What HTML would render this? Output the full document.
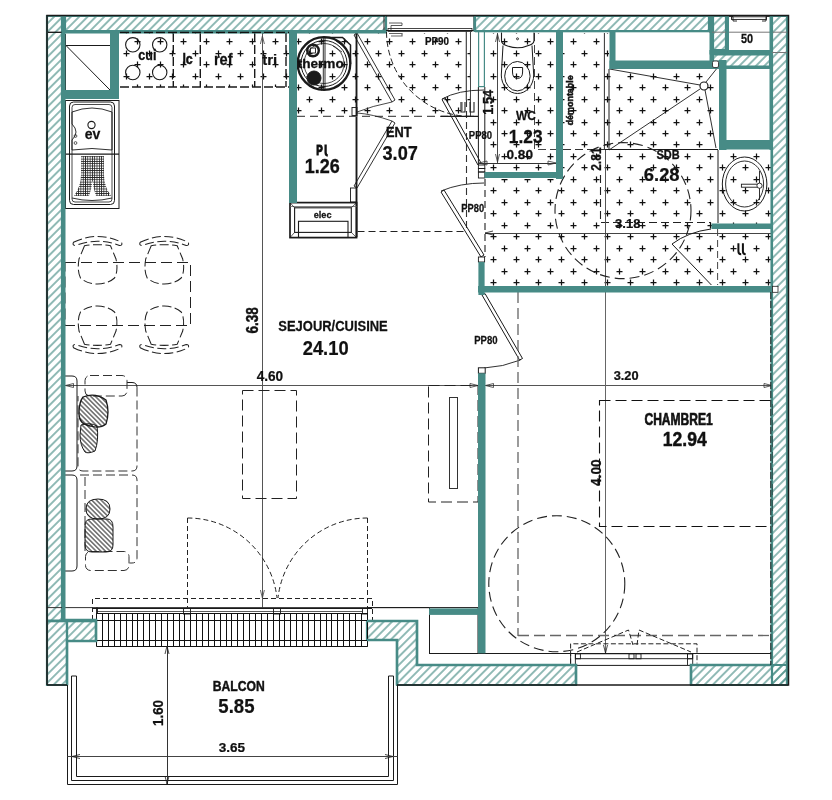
<!DOCTYPE html>
<html><head><meta charset="utf-8"><style>html,body{margin:0;padding:0;background:#fff;}svg{display:block;will-change:transform;}</style></head>
<body><svg width="832" height="800" viewBox="0 0 832 800" font-family="'Liberation Sans', sans-serif">
<rect width="832" height="800" fill="#fff"/>

<defs>
 <pattern id="hatch" patternUnits="userSpaceOnUse" width="5.9" height="5.9" patternTransform="rotate(45)">
   <line x1="2.95" y1="-1" x2="2.95" y2="7" stroke="#3f8780" stroke-width="1.15"/>
 </pattern>
 <pattern id="hatchk" patternUnits="userSpaceOnUse" width="3.3" height="3.3" patternTransform="rotate(-45)">
   <line x1="1.65" y1="-1" x2="1.65" y2="5" stroke="#111" stroke-width="0.95"/>
 </pattern>
 <pattern id="grid" patternUnits="userSpaceOnUse" width="2.3" height="2.3">
   <path d="M0 0.4H2.3M0.4 0V2.3" stroke="#222" stroke-width="0.8"/>
 </pattern>
</defs><clipPath id="tclip"><rect x="120" y="33" width="169" height="54"/><rect x="297" y="33" width="174" height="83"/><rect x="485" y="33" width="71" height="139"/><rect x="563" y="33" width="46" height="254"/><rect x="609" y="69" width="109" height="81"/><rect x="485" y="179" width="287" height="108"/><rect x="563" y="150" width="209" height="40"/><rect x="718" y="150" width="54" height="130"/></clipPath><path clip-path="url(#tclip)" d="M111.5 41.5h6M114.5 38.5v6M111.5 64.5h6M114.5 61.5v6M111.5 87.5h6M114.5 84.5v6M111.5 110.5h6M114.5 107.5v6M111.5 133.5h6M114.5 130.5v6M111.5 156.5h6M114.5 153.5v6M111.5 179.5h6M114.5 176.5v6M111.5 202.5h6M114.5 199.5v6M111.5 225.5h6M114.5 222.5v6M111.5 248.5h6M114.5 245.5v6M111.5 271.5h6M114.5 268.5v6M111.5 293.5h6M114.5 290.5v6M134.5 41.5h6M137.5 38.5v6M134.5 64.5h6M137.5 61.5v6M134.5 87.5h6M137.5 84.5v6M134.5 110.5h6M137.5 107.5v6M134.5 133.5h6M137.5 130.5v6M134.5 156.5h6M137.5 153.5v6M134.5 179.5h6M137.5 176.5v6M134.5 202.5h6M137.5 199.5v6M134.5 225.5h6M137.5 222.5v6M134.5 248.5h6M137.5 245.5v6M134.5 271.5h6M137.5 268.5v6M134.5 293.5h6M137.5 290.5v6M157.5 41.5h6M160.5 38.5v6M157.5 64.5h6M160.5 61.5v6M157.5 87.5h6M160.5 84.5v6M157.5 110.5h6M160.5 107.5v6M157.5 133.5h6M160.5 130.5v6M157.5 156.5h6M160.5 153.5v6M157.5 179.5h6M160.5 176.5v6M157.5 202.5h6M160.5 199.5v6M157.5 225.5h6M160.5 222.5v6M157.5 248.5h6M160.5 245.5v6M157.5 271.5h6M160.5 268.5v6M157.5 293.5h6M160.5 290.5v6M180.5 41.5h6M183.5 38.5v6M180.5 64.5h6M183.5 61.5v6M180.5 87.5h6M183.5 84.5v6M180.5 110.5h6M183.5 107.5v6M180.5 133.5h6M183.5 130.5v6M180.5 156.5h6M183.5 153.5v6M180.5 179.5h6M183.5 176.5v6M180.5 202.5h6M183.5 199.5v6M180.5 225.5h6M183.5 222.5v6M180.5 248.5h6M183.5 245.5v6M180.5 271.5h6M183.5 268.5v6M180.5 293.5h6M183.5 290.5v6M203.5 41.5h6M206.5 38.5v6M203.5 64.5h6M206.5 61.5v6M203.5 87.5h6M206.5 84.5v6M203.5 110.5h6M206.5 107.5v6M203.5 133.5h6M206.5 130.5v6M203.5 156.5h6M206.5 153.5v6M203.5 179.5h6M206.5 176.5v6M203.5 202.5h6M206.5 199.5v6M203.5 225.5h6M206.5 222.5v6M203.5 248.5h6M206.5 245.5v6M203.5 271.5h6M206.5 268.5v6M203.5 293.5h6M206.5 290.5v6M226.5 41.5h6M229.5 38.5v6M226.5 64.5h6M229.5 61.5v6M226.5 87.5h6M229.5 84.5v6M226.5 110.5h6M229.5 107.5v6M226.5 133.5h6M229.5 130.5v6M226.5 156.5h6M229.5 153.5v6M226.5 179.5h6M229.5 176.5v6M226.5 202.5h6M229.5 199.5v6M226.5 225.5h6M229.5 222.5v6M226.5 248.5h6M229.5 245.5v6M226.5 271.5h6M229.5 268.5v6M226.5 293.5h6M229.5 290.5v6M249.5 41.5h6M252.5 38.5v6M249.5 64.5h6M252.5 61.5v6M249.5 87.5h6M252.5 84.5v6M249.5 110.5h6M252.5 107.5v6M249.5 133.5h6M252.5 130.5v6M249.5 156.5h6M252.5 153.5v6M249.5 179.5h6M252.5 176.5v6M249.5 202.5h6M252.5 199.5v6M249.5 225.5h6M252.5 222.5v6M249.5 248.5h6M252.5 245.5v6M249.5 271.5h6M252.5 268.5v6M249.5 293.5h6M252.5 290.5v6M272.5 41.5h6M275.5 38.5v6M272.5 64.5h6M275.5 61.5v6M272.5 87.5h6M275.5 84.5v6M272.5 110.5h6M275.5 107.5v6M272.5 133.5h6M275.5 130.5v6M272.5 156.5h6M275.5 153.5v6M272.5 179.5h6M275.5 176.5v6M272.5 202.5h6M275.5 199.5v6M272.5 225.5h6M275.5 222.5v6M272.5 248.5h6M275.5 245.5v6M272.5 271.5h6M275.5 268.5v6M272.5 293.5h6M275.5 290.5v6M295.5 41.5h6M298.5 38.5v6M295.5 64.5h6M298.5 61.5v6M295.5 87.5h6M298.5 84.5v6M295.5 110.5h6M298.5 107.5v6M295.5 133.5h6M298.5 130.5v6M295.5 156.5h6M298.5 153.5v6M295.5 179.5h6M298.5 176.5v6M295.5 202.5h6M298.5 199.5v6M295.5 225.5h6M298.5 222.5v6M295.5 248.5h6M298.5 245.5v6M295.5 271.5h6M298.5 268.5v6M295.5 293.5h6M298.5 290.5v6M318.5 41.5h6M321.5 38.5v6M318.5 64.5h6M321.5 61.5v6M318.5 87.5h6M321.5 84.5v6M318.5 110.5h6M321.5 107.5v6M318.5 133.5h6M321.5 130.5v6M318.5 156.5h6M321.5 153.5v6M318.5 179.5h6M321.5 176.5v6M318.5 202.5h6M321.5 199.5v6M318.5 225.5h6M321.5 222.5v6M318.5 248.5h6M321.5 245.5v6M318.5 271.5h6M321.5 268.5v6M318.5 293.5h6M321.5 290.5v6M341.5 41.5h6M344.5 38.5v6M341.5 64.5h6M344.5 61.5v6M341.5 87.5h6M344.5 84.5v6M341.5 110.5h6M344.5 107.5v6M341.5 133.5h6M344.5 130.5v6M341.5 156.5h6M344.5 153.5v6M341.5 179.5h6M344.5 176.5v6M341.5 202.5h6M344.5 199.5v6M341.5 225.5h6M344.5 222.5v6M341.5 248.5h6M344.5 245.5v6M341.5 271.5h6M344.5 268.5v6M341.5 293.5h6M344.5 290.5v6M364.5 41.5h6M367.5 38.5v6M364.5 64.5h6M367.5 61.5v6M364.5 87.5h6M367.5 84.5v6M364.5 110.5h6M367.5 107.5v6M364.5 133.5h6M367.5 130.5v6M364.5 156.5h6M367.5 153.5v6M364.5 179.5h6M367.5 176.5v6M364.5 202.5h6M367.5 199.5v6M364.5 225.5h6M367.5 222.5v6M364.5 248.5h6M367.5 245.5v6M364.5 271.5h6M367.5 268.5v6M364.5 293.5h6M367.5 290.5v6M386.5 41.5h6M389.5 38.5v6M386.5 64.5h6M389.5 61.5v6M386.5 87.5h6M389.5 84.5v6M386.5 110.5h6M389.5 107.5v6M386.5 133.5h6M389.5 130.5v6M386.5 156.5h6M389.5 153.5v6M386.5 179.5h6M389.5 176.5v6M386.5 202.5h6M389.5 199.5v6M386.5 225.5h6M389.5 222.5v6M386.5 248.5h6M389.5 245.5v6M386.5 271.5h6M389.5 268.5v6M386.5 293.5h6M389.5 290.5v6M409.5 41.5h6M412.5 38.5v6M409.5 64.5h6M412.5 61.5v6M409.5 87.5h6M412.5 84.5v6M409.5 110.5h6M412.5 107.5v6M409.5 133.5h6M412.5 130.5v6M409.5 156.5h6M412.5 153.5v6M409.5 179.5h6M412.5 176.5v6M409.5 202.5h6M412.5 199.5v6M409.5 225.5h6M412.5 222.5v6M409.5 248.5h6M412.5 245.5v6M409.5 271.5h6M412.5 268.5v6M409.5 293.5h6M412.5 290.5v6M432.5 41.5h6M435.5 38.5v6M432.5 64.5h6M435.5 61.5v6M432.5 87.5h6M435.5 84.5v6M432.5 110.5h6M435.5 107.5v6M432.5 133.5h6M435.5 130.5v6M432.5 156.5h6M435.5 153.5v6M432.5 179.5h6M435.5 176.5v6M432.5 202.5h6M435.5 199.5v6M432.5 225.5h6M435.5 222.5v6M432.5 248.5h6M435.5 245.5v6M432.5 271.5h6M435.5 268.5v6M432.5 293.5h6M435.5 290.5v6M455.5 41.5h6M458.5 38.5v6M455.5 64.5h6M458.5 61.5v6M455.5 87.5h6M458.5 84.5v6M455.5 110.5h6M458.5 107.5v6M455.5 133.5h6M458.5 130.5v6M455.5 156.5h6M458.5 153.5v6M455.5 179.5h6M458.5 176.5v6M455.5 202.5h6M458.5 199.5v6M455.5 225.5h6M458.5 222.5v6M455.5 248.5h6M458.5 245.5v6M455.5 271.5h6M458.5 268.5v6M455.5 293.5h6M458.5 290.5v6M478.5 41.5h6M481.5 38.5v6M478.5 64.5h6M481.5 61.5v6M478.5 87.5h6M481.5 84.5v6M478.5 110.5h6M481.5 107.5v6M478.5 133.5h6M481.5 130.5v6M478.5 156.5h6M481.5 153.5v6M478.5 179.5h6M481.5 176.5v6M478.5 202.5h6M481.5 199.5v6M478.5 225.5h6M481.5 222.5v6M478.5 248.5h6M481.5 245.5v6M478.5 271.5h6M481.5 268.5v6M478.5 293.5h6M481.5 290.5v6M501.5 41.5h6M504.5 38.5v6M501.5 64.5h6M504.5 61.5v6M501.5 87.5h6M504.5 84.5v6M501.5 110.5h6M504.5 107.5v6M501.5 133.5h6M504.5 130.5v6M501.5 156.5h6M504.5 153.5v6M501.5 179.5h6M504.5 176.5v6M501.5 202.5h6M504.5 199.5v6M501.5 225.5h6M504.5 222.5v6M501.5 248.5h6M504.5 245.5v6M501.5 271.5h6M504.5 268.5v6M501.5 293.5h6M504.5 290.5v6M524.5 41.5h6M527.5 38.5v6M524.5 64.5h6M527.5 61.5v6M524.5 87.5h6M527.5 84.5v6M524.5 110.5h6M527.5 107.5v6M524.5 133.5h6M527.5 130.5v6M524.5 156.5h6M527.5 153.5v6M524.5 179.5h6M527.5 176.5v6M524.5 202.5h6M527.5 199.5v6M524.5 225.5h6M527.5 222.5v6M524.5 248.5h6M527.5 245.5v6M524.5 271.5h6M527.5 268.5v6M524.5 293.5h6M527.5 290.5v6M547.5 41.5h6M550.5 38.5v6M547.5 64.5h6M550.5 61.5v6M547.5 87.5h6M550.5 84.5v6M547.5 110.5h6M550.5 107.5v6M547.5 133.5h6M550.5 130.5v6M547.5 156.5h6M550.5 153.5v6M547.5 179.5h6M550.5 176.5v6M547.5 202.5h6M550.5 199.5v6M547.5 225.5h6M550.5 222.5v6M547.5 248.5h6M550.5 245.5v6M547.5 271.5h6M550.5 268.5v6M547.5 293.5h6M550.5 290.5v6M570.5 41.5h6M573.5 38.5v6M570.5 64.5h6M573.5 61.5v6M570.5 87.5h6M573.5 84.5v6M570.5 110.5h6M573.5 107.5v6M570.5 133.5h6M573.5 130.5v6M570.5 156.5h6M573.5 153.5v6M570.5 179.5h6M573.5 176.5v6M570.5 202.5h6M573.5 199.5v6M570.5 225.5h6M573.5 222.5v6M570.5 248.5h6M573.5 245.5v6M570.5 271.5h6M573.5 268.5v6M570.5 293.5h6M573.5 290.5v6M593.5 41.5h6M596.5 38.5v6M593.5 64.5h6M596.5 61.5v6M593.5 87.5h6M596.5 84.5v6M593.5 110.5h6M596.5 107.5v6M593.5 133.5h6M596.5 130.5v6M593.5 156.5h6M596.5 153.5v6M593.5 179.5h6M596.5 176.5v6M593.5 202.5h6M596.5 199.5v6M593.5 225.5h6M596.5 222.5v6M593.5 248.5h6M596.5 245.5v6M593.5 271.5h6M596.5 268.5v6M593.5 293.5h6M596.5 290.5v6M616.5 41.5h6M619.5 38.5v6M616.5 64.5h6M619.5 61.5v6M616.5 87.5h6M619.5 84.5v6M616.5 110.5h6M619.5 107.5v6M616.5 133.5h6M619.5 130.5v6M616.5 156.5h6M619.5 153.5v6M616.5 179.5h6M619.5 176.5v6M616.5 202.5h6M619.5 199.5v6M616.5 225.5h6M619.5 222.5v6M616.5 248.5h6M619.5 245.5v6M616.5 271.5h6M619.5 268.5v6M616.5 293.5h6M619.5 290.5v6M639.5 41.5h6M642.5 38.5v6M639.5 64.5h6M642.5 61.5v6M639.5 87.5h6M642.5 84.5v6M639.5 110.5h6M642.5 107.5v6M639.5 133.5h6M642.5 130.5v6M639.5 156.5h6M642.5 153.5v6M639.5 179.5h6M642.5 176.5v6M639.5 202.5h6M642.5 199.5v6M639.5 225.5h6M642.5 222.5v6M639.5 248.5h6M642.5 245.5v6M639.5 271.5h6M642.5 268.5v6M639.5 293.5h6M642.5 290.5v6M662.5 41.5h6M665.5 38.5v6M662.5 64.5h6M665.5 61.5v6M662.5 87.5h6M665.5 84.5v6M662.5 110.5h6M665.5 107.5v6M662.5 133.5h6M665.5 130.5v6M662.5 156.5h6M665.5 153.5v6M662.5 179.5h6M665.5 176.5v6M662.5 202.5h6M665.5 199.5v6M662.5 225.5h6M665.5 222.5v6M662.5 248.5h6M665.5 245.5v6M662.5 271.5h6M665.5 268.5v6M662.5 293.5h6M665.5 290.5v6M684.5 41.5h6M687.5 38.5v6M684.5 64.5h6M687.5 61.5v6M684.5 87.5h6M687.5 84.5v6M684.5 110.5h6M687.5 107.5v6M684.5 133.5h6M687.5 130.5v6M684.5 156.5h6M687.5 153.5v6M684.5 179.5h6M687.5 176.5v6M684.5 202.5h6M687.5 199.5v6M684.5 225.5h6M687.5 222.5v6M684.5 248.5h6M687.5 245.5v6M684.5 271.5h6M687.5 268.5v6M684.5 293.5h6M687.5 290.5v6M707.5 41.5h6M710.5 38.5v6M707.5 64.5h6M710.5 61.5v6M707.5 87.5h6M710.5 84.5v6M707.5 110.5h6M710.5 107.5v6M707.5 133.5h6M710.5 130.5v6M707.5 156.5h6M710.5 153.5v6M707.5 179.5h6M710.5 176.5v6M707.5 202.5h6M710.5 199.5v6M707.5 225.5h6M710.5 222.5v6M707.5 248.5h6M710.5 245.5v6M707.5 271.5h6M710.5 268.5v6M707.5 293.5h6M710.5 290.5v6M730.5 41.5h6M733.5 38.5v6M730.5 64.5h6M733.5 61.5v6M730.5 87.5h6M733.5 84.5v6M730.5 110.5h6M733.5 107.5v6M730.5 133.5h6M733.5 130.5v6M730.5 156.5h6M733.5 153.5v6M730.5 179.5h6M733.5 176.5v6M730.5 202.5h6M733.5 199.5v6M730.5 225.5h6M733.5 222.5v6M730.5 248.5h6M733.5 245.5v6M730.5 271.5h6M733.5 268.5v6M730.5 293.5h6M733.5 290.5v6M753.5 41.5h6M756.5 38.5v6M753.5 64.5h6M756.5 61.5v6M753.5 87.5h6M756.5 84.5v6M753.5 110.5h6M756.5 107.5v6M753.5 133.5h6M756.5 130.5v6M753.5 156.5h6M756.5 153.5v6M753.5 179.5h6M756.5 176.5v6M753.5 202.5h6M756.5 199.5v6M753.5 225.5h6M756.5 222.5v6M753.5 248.5h6M756.5 245.5v6M753.5 271.5h6M756.5 268.5v6M753.5 293.5h6M756.5 290.5v6M776.5 41.5h6M779.5 38.5v6M776.5 64.5h6M779.5 61.5v6M776.5 87.5h6M779.5 84.5v6M776.5 110.5h6M779.5 107.5v6M776.5 133.5h6M779.5 130.5v6M776.5 156.5h6M779.5 153.5v6M776.5 179.5h6M779.5 176.5v6M776.5 202.5h6M779.5 199.5v6M776.5 225.5h6M779.5 222.5v6M776.5 248.5h6M779.5 245.5v6M776.5 271.5h6M779.5 268.5v6M776.5 293.5h6M779.5 290.5v6M123.5 30.5h6M126.5 27.5v6M123.5 53.5h6M126.5 50.5v6M123.5 76.5h6M126.5 73.5v6M123.5 99.5h6M126.5 96.5v6M123.5 122.5h6M126.5 119.5v6M123.5 144.5h6M126.5 141.5v6M123.5 167.5h6M126.5 164.5v6M123.5 190.5h6M126.5 187.5v6M123.5 213.5h6M126.5 210.5v6M123.5 236.5h6M126.5 233.5v6M123.5 259.5h6M126.5 256.5v6M123.5 282.5h6M126.5 279.5v6M146.5 30.5h6M149.5 27.5v6M146.5 53.5h6M149.5 50.5v6M146.5 76.5h6M149.5 73.5v6M146.5 99.5h6M149.5 96.5v6M146.5 122.5h6M149.5 119.5v6M146.5 144.5h6M149.5 141.5v6M146.5 167.5h6M149.5 164.5v6M146.5 190.5h6M149.5 187.5v6M146.5 213.5h6M149.5 210.5v6M146.5 236.5h6M149.5 233.5v6M146.5 259.5h6M149.5 256.5v6M146.5 282.5h6M149.5 279.5v6M169.5 30.5h6M172.5 27.5v6M169.5 53.5h6M172.5 50.5v6M169.5 76.5h6M172.5 73.5v6M169.5 99.5h6M172.5 96.5v6M169.5 122.5h6M172.5 119.5v6M169.5 144.5h6M172.5 141.5v6M169.5 167.5h6M172.5 164.5v6M169.5 190.5h6M172.5 187.5v6M169.5 213.5h6M172.5 210.5v6M169.5 236.5h6M172.5 233.5v6M169.5 259.5h6M172.5 256.5v6M169.5 282.5h6M172.5 279.5v6M192.5 30.5h6M195.5 27.5v6M192.5 53.5h6M195.5 50.5v6M192.5 76.5h6M195.5 73.5v6M192.5 99.5h6M195.5 96.5v6M192.5 122.5h6M195.5 119.5v6M192.5 144.5h6M195.5 141.5v6M192.5 167.5h6M195.5 164.5v6M192.5 190.5h6M195.5 187.5v6M192.5 213.5h6M195.5 210.5v6M192.5 236.5h6M195.5 233.5v6M192.5 259.5h6M195.5 256.5v6M192.5 282.5h6M195.5 279.5v6M215.5 30.5h6M218.5 27.5v6M215.5 53.5h6M218.5 50.5v6M215.5 76.5h6M218.5 73.5v6M215.5 99.5h6M218.5 96.5v6M215.5 122.5h6M218.5 119.5v6M215.5 144.5h6M218.5 141.5v6M215.5 167.5h6M218.5 164.5v6M215.5 190.5h6M218.5 187.5v6M215.5 213.5h6M218.5 210.5v6M215.5 236.5h6M218.5 233.5v6M215.5 259.5h6M218.5 256.5v6M215.5 282.5h6M218.5 279.5v6M237.5 30.5h6M240.5 27.5v6M237.5 53.5h6M240.5 50.5v6M237.5 76.5h6M240.5 73.5v6M237.5 99.5h6M240.5 96.5v6M237.5 122.5h6M240.5 119.5v6M237.5 144.5h6M240.5 141.5v6M237.5 167.5h6M240.5 164.5v6M237.5 190.5h6M240.5 187.5v6M237.5 213.5h6M240.5 210.5v6M237.5 236.5h6M240.5 233.5v6M237.5 259.5h6M240.5 256.5v6M237.5 282.5h6M240.5 279.5v6M260.5 30.5h6M263.5 27.5v6M260.5 53.5h6M263.5 50.5v6M260.5 76.5h6M263.5 73.5v6M260.5 99.5h6M263.5 96.5v6M260.5 122.5h6M263.5 119.5v6M260.5 144.5h6M263.5 141.5v6M260.5 167.5h6M263.5 164.5v6M260.5 190.5h6M263.5 187.5v6M260.5 213.5h6M263.5 210.5v6M260.5 236.5h6M263.5 233.5v6M260.5 259.5h6M263.5 256.5v6M260.5 282.5h6M263.5 279.5v6M283.5 30.5h6M286.5 27.5v6M283.5 53.5h6M286.5 50.5v6M283.5 76.5h6M286.5 73.5v6M283.5 99.5h6M286.5 96.5v6M283.5 122.5h6M286.5 119.5v6M283.5 144.5h6M286.5 141.5v6M283.5 167.5h6M286.5 164.5v6M283.5 190.5h6M286.5 187.5v6M283.5 213.5h6M286.5 210.5v6M283.5 236.5h6M286.5 233.5v6M283.5 259.5h6M286.5 256.5v6M283.5 282.5h6M286.5 279.5v6M306.5 30.5h6M309.5 27.5v6M306.5 53.5h6M309.5 50.5v6M306.5 76.5h6M309.5 73.5v6M306.5 99.5h6M309.5 96.5v6M306.5 122.5h6M309.5 119.5v6M306.5 144.5h6M309.5 141.5v6M306.5 167.5h6M309.5 164.5v6M306.5 190.5h6M309.5 187.5v6M306.5 213.5h6M309.5 210.5v6M306.5 236.5h6M309.5 233.5v6M306.5 259.5h6M309.5 256.5v6M306.5 282.5h6M309.5 279.5v6M329.5 30.5h6M332.5 27.5v6M329.5 53.5h6M332.5 50.5v6M329.5 76.5h6M332.5 73.5v6M329.5 99.5h6M332.5 96.5v6M329.5 122.5h6M332.5 119.5v6M329.5 144.5h6M332.5 141.5v6M329.5 167.5h6M332.5 164.5v6M329.5 190.5h6M332.5 187.5v6M329.5 213.5h6M332.5 210.5v6M329.5 236.5h6M332.5 233.5v6M329.5 259.5h6M332.5 256.5v6M329.5 282.5h6M332.5 279.5v6M352.5 30.5h6M355.5 27.5v6M352.5 53.5h6M355.5 50.5v6M352.5 76.5h6M355.5 73.5v6M352.5 99.5h6M355.5 96.5v6M352.5 122.5h6M355.5 119.5v6M352.5 144.5h6M355.5 141.5v6M352.5 167.5h6M355.5 164.5v6M352.5 190.5h6M355.5 187.5v6M352.5 213.5h6M355.5 210.5v6M352.5 236.5h6M355.5 233.5v6M352.5 259.5h6M355.5 256.5v6M352.5 282.5h6M355.5 279.5v6M375.5 30.5h6M378.5 27.5v6M375.5 53.5h6M378.5 50.5v6M375.5 76.5h6M378.5 73.5v6M375.5 99.5h6M378.5 96.5v6M375.5 122.5h6M378.5 119.5v6M375.5 144.5h6M378.5 141.5v6M375.5 167.5h6M378.5 164.5v6M375.5 190.5h6M378.5 187.5v6M375.5 213.5h6M378.5 210.5v6M375.5 236.5h6M378.5 233.5v6M375.5 259.5h6M378.5 256.5v6M375.5 282.5h6M378.5 279.5v6M398.5 30.5h6M401.5 27.5v6M398.5 53.5h6M401.5 50.5v6M398.5 76.5h6M401.5 73.5v6M398.5 99.5h6M401.5 96.5v6M398.5 122.5h6M401.5 119.5v6M398.5 144.5h6M401.5 141.5v6M398.5 167.5h6M401.5 164.5v6M398.5 190.5h6M401.5 187.5v6M398.5 213.5h6M401.5 210.5v6M398.5 236.5h6M401.5 233.5v6M398.5 259.5h6M401.5 256.5v6M398.5 282.5h6M401.5 279.5v6M421.5 30.5h6M424.5 27.5v6M421.5 53.5h6M424.5 50.5v6M421.5 76.5h6M424.5 73.5v6M421.5 99.5h6M424.5 96.5v6M421.5 122.5h6M424.5 119.5v6M421.5 144.5h6M424.5 141.5v6M421.5 167.5h6M424.5 164.5v6M421.5 190.5h6M424.5 187.5v6M421.5 213.5h6M424.5 210.5v6M421.5 236.5h6M424.5 233.5v6M421.5 259.5h6M424.5 256.5v6M421.5 282.5h6M424.5 279.5v6M444.5 30.5h6M447.5 27.5v6M444.5 53.5h6M447.5 50.5v6M444.5 76.5h6M447.5 73.5v6M444.5 99.5h6M447.5 96.5v6M444.5 122.5h6M447.5 119.5v6M444.5 144.5h6M447.5 141.5v6M444.5 167.5h6M447.5 164.5v6M444.5 190.5h6M447.5 187.5v6M444.5 213.5h6M447.5 210.5v6M444.5 236.5h6M447.5 233.5v6M444.5 259.5h6M447.5 256.5v6M444.5 282.5h6M447.5 279.5v6M467.5 30.5h6M470.5 27.5v6M467.5 53.5h6M470.5 50.5v6M467.5 76.5h6M470.5 73.5v6M467.5 99.5h6M470.5 96.5v6M467.5 122.5h6M470.5 119.5v6M467.5 144.5h6M470.5 141.5v6M467.5 167.5h6M470.5 164.5v6M467.5 190.5h6M470.5 187.5v6M467.5 213.5h6M470.5 210.5v6M467.5 236.5h6M470.5 233.5v6M467.5 259.5h6M470.5 256.5v6M467.5 282.5h6M470.5 279.5v6M490.5 30.5h6M493.5 27.5v6M490.5 53.5h6M493.5 50.5v6M490.5 76.5h6M493.5 73.5v6M490.5 99.5h6M493.5 96.5v6M490.5 122.5h6M493.5 119.5v6M490.5 144.5h6M493.5 141.5v6M490.5 167.5h6M493.5 164.5v6M490.5 190.5h6M493.5 187.5v6M490.5 213.5h6M493.5 210.5v6M490.5 236.5h6M493.5 233.5v6M490.5 259.5h6M493.5 256.5v6M490.5 282.5h6M493.5 279.5v6M513.5 30.5h6M516.5 27.5v6M513.5 53.5h6M516.5 50.5v6M513.5 76.5h6M516.5 73.5v6M513.5 99.5h6M516.5 96.5v6M513.5 122.5h6M516.5 119.5v6M513.5 144.5h6M516.5 141.5v6M513.5 167.5h6M516.5 164.5v6M513.5 190.5h6M516.5 187.5v6M513.5 213.5h6M516.5 210.5v6M513.5 236.5h6M516.5 233.5v6M513.5 259.5h6M516.5 256.5v6M513.5 282.5h6M516.5 279.5v6M535.5 30.5h6M538.5 27.5v6M535.5 53.5h6M538.5 50.5v6M535.5 76.5h6M538.5 73.5v6M535.5 99.5h6M538.5 96.5v6M535.5 122.5h6M538.5 119.5v6M535.5 144.5h6M538.5 141.5v6M535.5 167.5h6M538.5 164.5v6M535.5 190.5h6M538.5 187.5v6M535.5 213.5h6M538.5 210.5v6M535.5 236.5h6M538.5 233.5v6M535.5 259.5h6M538.5 256.5v6M535.5 282.5h6M538.5 279.5v6M558.5 30.5h6M561.5 27.5v6M558.5 53.5h6M561.5 50.5v6M558.5 76.5h6M561.5 73.5v6M558.5 99.5h6M561.5 96.5v6M558.5 122.5h6M561.5 119.5v6M558.5 144.5h6M561.5 141.5v6M558.5 167.5h6M561.5 164.5v6M558.5 190.5h6M561.5 187.5v6M558.5 213.5h6M561.5 210.5v6M558.5 236.5h6M561.5 233.5v6M558.5 259.5h6M561.5 256.5v6M558.5 282.5h6M561.5 279.5v6M581.5 30.5h6M584.5 27.5v6M581.5 53.5h6M584.5 50.5v6M581.5 76.5h6M584.5 73.5v6M581.5 99.5h6M584.5 96.5v6M581.5 122.5h6M584.5 119.5v6M581.5 144.5h6M584.5 141.5v6M581.5 167.5h6M584.5 164.5v6M581.5 190.5h6M584.5 187.5v6M581.5 213.5h6M584.5 210.5v6M581.5 236.5h6M584.5 233.5v6M581.5 259.5h6M584.5 256.5v6M581.5 282.5h6M584.5 279.5v6M604.5 30.5h6M607.5 27.5v6M604.5 53.5h6M607.5 50.5v6M604.5 76.5h6M607.5 73.5v6M604.5 99.5h6M607.5 96.5v6M604.5 122.5h6M607.5 119.5v6M604.5 144.5h6M607.5 141.5v6M604.5 167.5h6M607.5 164.5v6M604.5 190.5h6M607.5 187.5v6M604.5 213.5h6M607.5 210.5v6M604.5 236.5h6M607.5 233.5v6M604.5 259.5h6M607.5 256.5v6M604.5 282.5h6M607.5 279.5v6M627.5 30.5h6M630.5 27.5v6M627.5 53.5h6M630.5 50.5v6M627.5 76.5h6M630.5 73.5v6M627.5 99.5h6M630.5 96.5v6M627.5 122.5h6M630.5 119.5v6M627.5 144.5h6M630.5 141.5v6M627.5 167.5h6M630.5 164.5v6M627.5 190.5h6M630.5 187.5v6M627.5 213.5h6M630.5 210.5v6M627.5 236.5h6M630.5 233.5v6M627.5 259.5h6M630.5 256.5v6M627.5 282.5h6M630.5 279.5v6M650.5 30.5h6M653.5 27.5v6M650.5 53.5h6M653.5 50.5v6M650.5 76.5h6M653.5 73.5v6M650.5 99.5h6M653.5 96.5v6M650.5 122.5h6M653.5 119.5v6M650.5 144.5h6M653.5 141.5v6M650.5 167.5h6M653.5 164.5v6M650.5 190.5h6M653.5 187.5v6M650.5 213.5h6M653.5 210.5v6M650.5 236.5h6M653.5 233.5v6M650.5 259.5h6M653.5 256.5v6M650.5 282.5h6M653.5 279.5v6M673.5 30.5h6M676.5 27.5v6M673.5 53.5h6M676.5 50.5v6M673.5 76.5h6M676.5 73.5v6M673.5 99.5h6M676.5 96.5v6M673.5 122.5h6M676.5 119.5v6M673.5 144.5h6M676.5 141.5v6M673.5 167.5h6M676.5 164.5v6M673.5 190.5h6M676.5 187.5v6M673.5 213.5h6M676.5 210.5v6M673.5 236.5h6M676.5 233.5v6M673.5 259.5h6M676.5 256.5v6M673.5 282.5h6M676.5 279.5v6M696.5 30.5h6M699.5 27.5v6M696.5 53.5h6M699.5 50.5v6M696.5 76.5h6M699.5 73.5v6M696.5 99.5h6M699.5 96.5v6M696.5 122.5h6M699.5 119.5v6M696.5 144.5h6M699.5 141.5v6M696.5 167.5h6M699.5 164.5v6M696.5 190.5h6M699.5 187.5v6M696.5 213.5h6M699.5 210.5v6M696.5 236.5h6M699.5 233.5v6M696.5 259.5h6M699.5 256.5v6M696.5 282.5h6M699.5 279.5v6M719.5 30.5h6M722.5 27.5v6M719.5 53.5h6M722.5 50.5v6M719.5 76.5h6M722.5 73.5v6M719.5 99.5h6M722.5 96.5v6M719.5 122.5h6M722.5 119.5v6M719.5 144.5h6M722.5 141.5v6M719.5 167.5h6M722.5 164.5v6M719.5 190.5h6M722.5 187.5v6M719.5 213.5h6M722.5 210.5v6M719.5 236.5h6M722.5 233.5v6M719.5 259.5h6M722.5 256.5v6M719.5 282.5h6M722.5 279.5v6M742.5 30.5h6M745.5 27.5v6M742.5 53.5h6M745.5 50.5v6M742.5 76.5h6M745.5 73.5v6M742.5 99.5h6M745.5 96.5v6M742.5 122.5h6M745.5 119.5v6M742.5 144.5h6M745.5 141.5v6M742.5 167.5h6M745.5 164.5v6M742.5 190.5h6M745.5 187.5v6M742.5 213.5h6M745.5 210.5v6M742.5 236.5h6M745.5 233.5v6M742.5 259.5h6M745.5 256.5v6M742.5 282.5h6M745.5 279.5v6M765.5 30.5h6M768.5 27.5v6M765.5 53.5h6M768.5 50.5v6M765.5 76.5h6M768.5 73.5v6M765.5 99.5h6M768.5 96.5v6M765.5 122.5h6M768.5 119.5v6M765.5 144.5h6M768.5 141.5v6M765.5 167.5h6M768.5 164.5v6M765.5 190.5h6M768.5 187.5v6M765.5 213.5h6M768.5 210.5v6M765.5 236.5h6M768.5 233.5v6M765.5 259.5h6M768.5 256.5v6M765.5 282.5h6M768.5 279.5v6" stroke="#111" stroke-width="1.25" fill="none"/><polygon points="47,16 62,16 62,620 67,620 67,685 47,685" fill="url(#hatch)" stroke="#478b86" stroke-width="2.2"/><polygon points="65,16 386,16 386,31 65,31" fill="url(#hatch)" stroke="#478b86" stroke-width="2.2"/><polygon points="475,16 709,16 709,31 475,31" fill="url(#hatch)" stroke="#478b86" stroke-width="2.2"/><polygon points="713,16 726,16 726,50 713,50" fill="url(#hatch)" stroke="#478b86" stroke-width="2.2"/><polygon points="713,54.5 770,54.5 770,66.5 713,66.5" fill="url(#hatch)" stroke="#478b86" stroke-width="2.2"/><polygon points="772,16 787,16 787,685 772,685" fill="url(#hatch)" stroke="#478b86" stroke-width="2.2"/><polygon points="67,620 96,620 96,641 67,641" fill="url(#hatch)" stroke="#478b86" stroke-width="2.2"/><polygon points="367,621 417,621 417,665 576,665 576,685 397,685 397,640 367,640" fill="url(#hatch)" stroke="#478b86" stroke-width="2.2"/><polygon points="691,665 787,665 787,685 691,685" fill="url(#hatch)" stroke="#478b86" stroke-width="2.2"/><line x1="65.5" y1="45.5" x2="110" y2="45.5" stroke="#1a1a1a" stroke-width="1.1"/><line x1="65.5" y1="45" x2="110" y2="90" stroke="#1a1a1a" stroke-width="1"/><line x1="65.5" y1="34" x2="65.5" y2="90" stroke="#1a1a1a" stroke-width="1"/><path d="M120 32.5H289 M120 87H289" fill="none" stroke="#1a1a1a" stroke-width="1.6" stroke-dasharray="9,3"/><line x1="173.3" y1="33" x2="173.3" y2="87" stroke="#1a1a1a" stroke-width="1.4" stroke-dasharray="9,3"/><line x1="200.3" y1="33" x2="200.3" y2="87" stroke="#1a1a1a" stroke-width="1.4" stroke-dasharray="9,3"/><line x1="254.7" y1="33" x2="254.7" y2="87" stroke="#1a1a1a" stroke-width="1.4" stroke-dasharray="9,3"/><line x1="286" y1="33" x2="286" y2="87" stroke="#1a1a1a" stroke-width="1.4" stroke-dasharray="9,3"/><circle cx="132.8" cy="44.8" r="7.2" fill="none" stroke="#1a1a1a" stroke-width="1.1"/><circle cx="159.7" cy="44.8" r="7.2" fill="none" stroke="#1a1a1a" stroke-width="1.1"/><circle cx="132.8" cy="72.5" r="7.2" fill="none" stroke="#1a1a1a" stroke-width="1.1"/><circle cx="159.7" cy="72.5" r="7.2" fill="none" stroke="#1a1a1a" stroke-width="1.1"/><line x1="262.5" y1="33" x2="262.5" y2="608" stroke="#555" stroke-width="1"/><path d="M260.4 44 L262.4 36 L264.4 44" fill="none" stroke="#444" stroke-width="0.8"/><path d="M260.4 590 L262.4 598 L264.4 590" fill="none" stroke="#444" stroke-width="0.8"/><rect x="65.5" y="100.5" width="53.5" height="108" fill="none" stroke="#1a1a1a" stroke-width="1"/><rect x="69.5" y="102" width="45" height="102.5" fill="none" stroke="#1a1a1a" stroke-width="1" rx="4"/><rect x="72" y="104.5" width="40" height="97.5" fill="none" stroke="#1a1a1a" stroke-width="0.8" rx="3"/><line x1="65.5" y1="154.2" x2="119" y2="154.2" stroke="#1a1a1a" stroke-width="1.3"/><path d="M72 112 Q92 104 112 112 V150 Q92 147 72 150 V140 Q80 132 72 124 Z" fill="none" stroke="#1a1a1a" stroke-width="0.9"/><circle cx="91.5" cy="125" r="3.6" fill="none" stroke="#1a1a1a" stroke-width="1.1"/><circle cx="75.5" cy="136" r="1.4" fill="none" stroke="#1a1a1a" stroke-width="0.7"/><circle cx="75.5" cy="143" r="1.4" fill="none" stroke="#1a1a1a" stroke-width="0.7"/><path d="M81 156 H104 V175 Q104 186 111 196 H96 Q93 188 92.5 180 Q92 188 89 196 H74 Q81 186 81 175 Z" fill="url(#grid)" stroke="#1a1a1a" stroke-width="0"/><path d="M72 198 Q92 203 112 198" fill="none" stroke="#1a1a1a" stroke-width="0.9"/><circle cx="324" cy="63.5" r="26.3" fill="none" stroke="#1a1a1a" stroke-width="2.3"/><circle cx="324" cy="63.5" r="23" fill="none" stroke="#1a1a1a" stroke-width="1"/><circle cx="324" cy="63.5" r="20" fill="none" stroke="#1a1a1a" stroke-width="0.8"/><path d="M323.5 37.5 H342.5 L350.5 45 V64" fill="none" stroke="#1a1a1a" stroke-width="1.5"/><path d="M336 41 L346 48 M333 46 L342 52" fill="none" stroke="#1a1a1a" stroke-width="0.8"/><line x1="323.3" y1="37" x2="323.3" y2="90" stroke="#1a1a1a" stroke-width="0.9"/><line x1="325" y1="37" x2="325" y2="90" stroke="#1a1a1a" stroke-width="0.9"/><circle cx="313" cy="50.5" r="5.8" fill="none" stroke="#1a1a1a" stroke-width="2.4"/><rect x="310.5" y="48" width="5" height="5" fill="none" stroke="#1a1a1a" stroke-width="0.9"/><circle cx="314" cy="78" r="7" fill="#1a1a1a" stroke="#1a1a1a" stroke-width="1"/><line x1="356.5" y1="33" x2="356.5" y2="237" stroke="#1a1a1a" stroke-width="1.9"/><line x1="297" y1="116.3" x2="475" y2="116.3" stroke="#555" stroke-width="1.3" stroke-dasharray="8,5"/><rect x="352" y="107.5" width="5" height="8" fill="none" stroke="#1a1a1a" stroke-width="0.9"/><path d="M354 35 L357 33 L395 100 L392 102 Z" fill="none" stroke="#1a1a1a" stroke-width="0.9"/><path d="M392 102 Q372 106 357 112" fill="none" stroke="#1a1a1a" stroke-width="0.8"/><path d="M354 186 L357 188 L395 123 L392 121 Z" fill="none" stroke="#1a1a1a" stroke-width="0.9"/><path d="M392 121 Q372 114 357 113" fill="none" stroke="#1a1a1a" stroke-width="0.8"/><rect x="350.5" y="188" width="6" height="14" fill="none" stroke="#1a1a1a" stroke-width="0.9"/><rect x="290" y="202.6" width="66.6" height="35" fill="none" stroke="#1a1a1a" stroke-width="1.7"/><rect x="294.6" y="207.8" width="56.7" height="24.6" fill="none" stroke="#1a1a1a" stroke-width="1.1"/><line x1="290" y1="206.5" x2="356.6" y2="206.5" stroke="#666" stroke-width="0.8"/><rect x="298.5" y="221.3" width="49.5" height="16.2" fill="none" stroke="#1a1a1a" stroke-width="1.1"/><line x1="290" y1="202.6" x2="294.6" y2="207.8" stroke="#1a1a1a" stroke-width="0.7"/><line x1="356.6" y1="202.6" x2="351.3" y2="207.8" stroke="#1a1a1a" stroke-width="0.7"/><line x1="290" y1="237.6" x2="294.6" y2="232.4" stroke="#1a1a1a" stroke-width="0.7"/><line x1="356.6" y1="237.6" x2="351.3" y2="232.4" stroke="#1a1a1a" stroke-width="0.7"/><line x1="357.5" y1="231.5" x2="466" y2="231.5" stroke="#222" stroke-width="1.1" stroke-dasharray="7,4"/><line x1="466.5" y1="100" x2="466.5" y2="231" stroke="#333" stroke-width="1.1" stroke-dasharray="7,4"/><line x1="386" y1="16" x2="474" y2="16" stroke="#1a1a1a" stroke-width="1.2"/><line x1="386" y1="30.5" x2="474" y2="30.5" stroke="#1a1a1a" stroke-width="1.2"/><rect x="388" y="28.5" width="84" height="3" fill="none" stroke="#1a1a1a" stroke-width="0.8"/><path d="M389 23 H402 V25.5 H391 V30" fill="none" stroke="#333" stroke-width="0.8"/><path d="M389 33.5 H402 V36 H391" fill="none" stroke="#666" stroke-width="1.2"/><path d="M386.5 32 A85 85 0 0 0 471 116.5" fill="none" stroke="#222" stroke-width="1" stroke-dasharray="6,3"/><line x1="466.3" y1="31" x2="466.3" y2="100" stroke="#333" stroke-width="1.1"/><line x1="470.5" y1="31" x2="470.5" y2="116" stroke="#444" stroke-width="1"/><path d="M384 15 V30 M474 15 V30" fill="none" stroke="#1a1a1a" stroke-width="1"/><path d="M478 165 L442 99.5 L445 97.8 L481 163" fill="none" stroke="#1a1a1a" stroke-width="1"/><path d="M442 99 Q458 90 484 90" fill="none" stroke="#1a1a1a" stroke-width="0.9"/><rect x="478.4" y="165" width="6.4" height="3.5" fill="none" stroke="#1a1a1a" stroke-width="0.9"/><rect x="478.4" y="168.5" width="6.4" height="3.5" fill="none" stroke="#1a1a1a" stroke-width="0.9"/><rect x="478.4" y="172" width="6.4" height="6" fill="none" stroke="#1a1a1a" stroke-width="0.9"/><line x1="478.4" y1="87" x2="478.4" y2="165" stroke="#1a1a1a" stroke-width="1"/><line x1="484.8" y1="87" x2="484.8" y2="165" stroke="#1a1a1a" stroke-width="1"/><path d="M461 102 V112 H465 V102 M470 102 V112 H474 V102" fill="none" stroke="#222" stroke-width="1.1"/><rect x="461" y="102" width="1.6" height="9" fill="#666" stroke="#1a1a1a" stroke-width="0"/><line x1="441" y1="116.3" x2="478" y2="116.3" stroke="#1a1a1a" stroke-width="1.2"/><line x1="497.5" y1="33" x2="497.5" y2="163" stroke="#333" stroke-width="0.9"/><path d="M495.5 42 L497.5 34 L499.5 42 M495.5 154 L497.5 162 L499.5 154" fill="none" stroke="#333" stroke-width="0.8"/><line x1="478.5" y1="163.5" x2="556" y2="163.5" stroke="#333" stroke-width="1"/><path d="M487 161 L479 163 L487 165 Z M548 161 L556 163 L548 165 Z" fill="none" stroke="#333" stroke-width="0.8"/><path d="M534.5 33 V149.5 H556" fill="none" stroke="#444" stroke-width="1" stroke-dasharray="8,4"/><path d="M501.5 32.5 V41 Q502 44 505 45 Q517.5 50.5 530 45 Q533.5 44 534 41 V32.5" fill="none" stroke="#1a1a1a" stroke-width="1.1"/><path d="M503 45.5 L501.3 75 A16.2 18.5 0 0 0 533.7 75 L532 45.5" fill="none" stroke="#1a1a1a" stroke-width="1"/><ellipse cx="517.4" cy="76.2" rx="12.7" ry="14.7" fill="none" stroke="#1a1a1a" stroke-width="1"/><path d="M512.5 67.5 H522.6 V72 Q522.6 78.4 517.5 78.4 Q512.5 78.4 512.5 72 Z" fill="none" stroke="#1a1a1a" stroke-width="1"/><circle cx="517.5" cy="38.8" r="1" fill="none" stroke="#1a1a1a" stroke-width="0.9"/><line x1="604.4" y1="33" x2="604.4" y2="150" stroke="#1a1a1a" stroke-width="0.9"/><line x1="609" y1="69" x2="609" y2="150" stroke="#1a1a1a" stroke-width="1"/><circle cx="704" cy="86" r="4" fill="none" stroke="#1a1a1a" stroke-width="1.2"/><line x1="609.5" y1="69" x2="700" y2="85" stroke="#1a1a1a" stroke-width="0.9"/><line x1="609" y1="150" x2="700" y2="89" stroke="#1a1a1a" stroke-width="0.9"/><line x1="706" y1="82" x2="718" y2="67" stroke="#1a1a1a" stroke-width="0.9"/><line x1="705" y1="90" x2="716" y2="148" stroke="#1a1a1a" stroke-width="0.9"/><line x1="605" y1="149.5" x2="718" y2="149.5" stroke="#1a1a1a" stroke-width="1.1"/><line x1="563" y1="149.5" x2="605" y2="149.5" stroke="#333" stroke-width="1.1" stroke-dasharray="8,4"/><path d="M600.5 175 V222.5 H711" fill="none" stroke="#222" stroke-width="1.1" stroke-dasharray="8,4"/><line x1="605.5" y1="150" x2="605.5" y2="286" stroke="#555" stroke-width="1"/><line x1="485" y1="233.5" x2="772" y2="233.5" stroke="#444" stroke-width="1"/><path d="M493 231 L485 233 L493 235" fill="none" stroke="#1a1a1a" stroke-width="0.8"/><circle cx="623" cy="210.6" r="68" fill="none" stroke="#222" stroke-width="1.1" stroke-dasharray="10,5"/><path d="M711 229 Q688 232 672 244 L711.4 285" fill="none" stroke="#1a1a1a" stroke-width="1"/><line x1="717.6" y1="229" x2="717.6" y2="285" stroke="#444" stroke-width="1" stroke-dasharray="7,4"/><line x1="718" y1="150" x2="718" y2="223" stroke="#1a1a1a" stroke-width="1"/><ellipse cx="744.6" cy="184" rx="22.3" ry="27" fill="none" stroke="#1a1a1a" stroke-width="1"/><ellipse cx="744.6" cy="184" rx="19" ry="23" fill="none" stroke="#1a1a1a" stroke-width="0.9"/><line x1="759.5" y1="171" x2="759.5" y2="200" stroke="#1a1a1a" stroke-width="0.9"/><rect x="741.4" y="184.2" width="18" height="3" fill="#fff" stroke="#1a1a1a" stroke-width="0.9"/><circle cx="759.5" cy="185.7" r="2.6" fill="#fff" stroke="#1a1a1a" stroke-width="0.9"/><path d="M441 192 L444 190 L484 255 L481 257 Z" fill="none" stroke="#1a1a1a" stroke-width="1"/><path d="M441 191 Q460 183 484 183" fill="none" stroke="#1a1a1a" stroke-width="0.9"/><line x1="485" y1="179" x2="485" y2="257" stroke="#333" stroke-width="1.2" stroke-dasharray="7,4"/><rect x="478.4" y="257" width="6.2" height="5" fill="#fff" stroke="#1a1a1a" stroke-width="0.9"/><path d="M482 295 L485 293.5 L522.5 358.5 L519.5 360 Z" fill="none" stroke="#1a1a1a" stroke-width="1"/><path d="M520.5 360 Q503 367 484 368" fill="none" stroke="#1a1a1a" stroke-width="0.9"/><rect x="478.4" y="367.8" width="6.8" height="5.5" fill="#fff" stroke="#1a1a1a" stroke-width="1"/><line x1="518" y1="292" x2="518" y2="636" stroke="#666" stroke-width="1.3" stroke-dasharray="11,5"/><line x1="518" y1="635.5" x2="772" y2="635.5" stroke="#666" stroke-width="1.3" stroke-dasharray="11,5"/><line x1="65" y1="385.5" x2="772" y2="385.5" stroke="#555" stroke-width="1"/><path d="M478 385.5 L470 383.5 L470 387.5Z M485.5 385.5 L493.5 383.5 L493.5 387.5Z M772 385.5 L764 383.5 L764 387.5Z M65.5 385.5 L73.5 383.5 L73.5 387.5Z" fill="none" stroke="#333" stroke-width="0.8"/><line x1="605.5" y1="292" x2="605.5" y2="653" stroke="#666" stroke-width="1"/><path d="M603.5 645 L605.5 653 L607.5 645" fill="none" stroke="#1a1a1a" stroke-width="0.8"/><rect x="65" y="262.5" width="125.5" height="63" fill="none" stroke="#222" stroke-width="1" stroke-dasharray="11,5"/><path d="M84.5 245.8 L79.0 259 Q77.0 271 80.5 278 Q87.5 284 97.5 284 Q108.5 283.5 114.5 278 Q118.5 271 116.0 259 L110.5 245.8 Q97.5 243.5 84.5 245.8 Z" fill="none" stroke="#222" stroke-width="1.05" stroke-dasharray="9,3.5"/><path d="M73.5 242.3 Q97.5 230.5 121.5 242.3 Q123.0 245.5 119.5 245.5 Q97.5 237 75.5 245.5 Q72.0 245.5 73.5 242.3 Z" fill="none" stroke="#222" stroke-width="1.05" stroke-dasharray="9,3.5"/><path d="M151.2 245.8 L145.7 259 Q143.7 271 147.2 278 Q154.2 284 164.2 284 Q175.2 283.5 181.2 278 Q185.2 271 182.7 259 L177.2 245.8 Q164.2 243.5 151.2 245.8 Z" fill="none" stroke="#222" stroke-width="1.05" stroke-dasharray="9,3.5"/><path d="M140.2 242.3 Q164.2 230.5 188.2 242.3 Q189.7 245.5 186.2 245.5 Q164.2 237 142.2 245.5 Q138.7 245.5 140.2 242.3 Z" fill="none" stroke="#222" stroke-width="1.05" stroke-dasharray="9,3.5"/><path d="M84.5 344.2 L79.0 331 Q77.0 319 80.5 312 Q87.5 306 97.5 306 Q108.5 306.5 114.5 312 Q118.5 319 116.0 331 L110.5 344.2 Q97.5 346.5 84.5 344.2 Z" fill="none" stroke="#222" stroke-width="1.05" stroke-dasharray="9,3.5"/><path d="M73.5 347.7 Q97.5 359.5 121.5 347.7 Q123.0 344.5 119.5 344.5 Q97.5 353 75.5 344.5 Q72.0 344.5 73.5 347.7 Z" fill="none" stroke="#222" stroke-width="1.05" stroke-dasharray="9,3.5"/><path d="M151.2 344.2 L145.7 331 Q143.7 319 147.2 312 Q154.2 306 164.2 306 Q175.2 306.5 181.2 312 Q185.2 319 182.7 331 L177.2 344.2 Q164.2 346.5 151.2 344.2 Z" fill="none" stroke="#222" stroke-width="1.05" stroke-dasharray="9,3.5"/><path d="M140.2 347.7 Q164.2 359.5 188.2 347.7 Q189.7 344.5 186.2 344.5 Q164.2 353 142.2 344.5 Q138.7 344.5 140.2 347.7 Z" fill="none" stroke="#222" stroke-width="1.05" stroke-dasharray="9,3.5"/><path d="M65 376 H72 Q77 376 77 381 V466 Q77 471 72 471 H65" fill="none" stroke="#1a1a1a" stroke-width="1"/><path d="M65 475 H72 Q77 475 77 480 V566 Q77 571 72 571 H65" fill="none" stroke="#1a1a1a" stroke-width="1"/><path d="M127 382.5 H132 Q137 382.5 137 387.5" fill="none" stroke="#1a1a1a" stroke-width="1"/><path d="M137 387.5 V466 Q137 471 132 471 H83 Q78 471 78 466 V396" fill="none" stroke="#333" stroke-width="1" stroke-dasharray="9,4"/><path d="M80 475 H132 Q137 475 137 480 V558 Q137 563 132 563 H129.5" fill="none" stroke="#333" stroke-width="1" stroke-dasharray="9,4"/><rect x="85" y="375.5" width="42" height="20.5" fill="none" stroke="#333" stroke-width="1" stroke-dasharray="9,4" rx="5"/><rect x="85.5" y="551.5" width="43.5" height="19" fill="none" stroke="#333" stroke-width="1" stroke-dasharray="9,4" rx="5"/><line x1="85" y1="477" x2="85" y2="551" stroke="#333" stroke-width="1" stroke-dasharray="9,4"/><path d="M83 397 Q95 392 106 400 Q110 412 106 424 Q100 429 90 426 Q79 424 79 414 Q79 402 83 397Z" fill="url(#hatchk)" stroke="#1a1a1a" stroke-width="1.3"/><path d="M81 425 Q90 422 97 426 Q99 440 95 451 Q88 454 85 452 Q80 445 80 435Z" fill="url(#hatchk)" stroke="#1a1a1a" stroke-width="1"/><path d="M86 509 Q86 499 98 499 Q110 499 110 509 Q110 519 98 519 Q86 519 86 509Z" fill="url(#hatchk)" stroke="#1a1a1a" stroke-width="1"/><path d="M85 525 Q85 519 92 519 H107 Q113 519 113 527 V545 Q113 552 106 552 H92 Q85 552 85 545Z" fill="url(#hatchk)" stroke="#1a1a1a" stroke-width="1"/><rect x="242.5" y="390.5" width="54" height="108" fill="none" stroke="#222" stroke-width="1" stroke-dasharray="11,5"/><rect x="428.5" y="385.5" width="49.5" height="116.5" fill="none" stroke="#222" stroke-width="1" stroke-dasharray="11,5"/><rect x="449.5" y="397.5" width="8" height="91" fill="none" stroke="#333" stroke-width="1"/><line x1="187.5" y1="518" x2="187.5" y2="608" stroke="#222" stroke-width="1" stroke-dasharray="5,3"/><line x1="367.5" y1="518" x2="367.5" y2="608" stroke="#222" stroke-width="1" stroke-dasharray="5,3"/><path d="M187.5 518 A90 90 0 0 1 277 598" fill="none" stroke="#222" stroke-width="1" stroke-dasharray="5,3"/><path d="M367.5 518 A90 90 0 0 0 278 598" fill="none" stroke="#222" stroke-width="1" stroke-dasharray="5,3"/><path d="M92.5 620 V598.5 H372.5 V620" fill="none" stroke="#222" stroke-width="1" stroke-dasharray="5,3"/><line x1="47" y1="607.6" x2="429" y2="607.6" stroke="#333" stroke-width="1"/><line x1="92" y1="608.5" x2="372" y2="608.5" stroke="#1a1a1a" stroke-width="1.1"/><line x1="97" y1="611.5" x2="362" y2="611.5" stroke="#333" stroke-width="0.8"/><rect x="96.5" y="608" width="1" height="5.5" fill="none" stroke="#1a1a1a" stroke-width="0.9"/><rect x="183.5" y="608.5" width="7" height="5.5" fill="none" stroke="#1a1a1a" stroke-width="0.9"/><rect x="273.5" y="608.5" width="7" height="5.5" fill="none" stroke="#1a1a1a" stroke-width="0.9"/><rect x="362.5" y="608.5" width="5" height="5.5" fill="none" stroke="#1a1a1a" stroke-width="0.9"/><path d="M96.5 613.5V646.5M102.5 613.5V646.5M108.5 613.5V646.5M114.5 613.5V646.5M120.5 613.5V646.5M126.5 613.5V646.5M132.5 613.5V646.5M137.5 613.5V646.5M143.5 613.5V646.5M149.5 613.5V646.5M155.5 613.5V646.5M161.5 613.5V646.5M167.5 613.5V646.5M173.5 613.5V646.5M179.5 613.5V646.5M184.5 613.5V646.5M190.5 613.5V646.5M196.5 613.5V646.5M202.5 613.5V646.5M208.5 613.5V646.5M214.5 613.5V646.5M220.5 613.5V646.5M226.5 613.5V646.5M231.5 613.5V646.5M237.5 613.5V646.5M243.5 613.5V646.5M249.5 613.5V646.5M255.5 613.5V646.5M261.5 613.5V646.5M267.5 613.5V646.5M273.5 613.5V646.5M279.5 613.5V646.5M284.5 613.5V646.5M290.5 613.5V646.5M296.5 613.5V646.5M302.5 613.5V646.5M308.5 613.5V646.5M314.5 613.5V646.5M320.5 613.5V646.5M326.5 613.5V646.5M331.5 613.5V646.5M337.5 613.5V646.5M343.5 613.5V646.5M349.5 613.5V646.5M355.5 613.5V646.5M361.5 613.5V646.5M367.5 613.5V646.5M96.5 613.5H367.7M96.5 620.5H367.7M96.5 640.5H367.7M96.5 646.5H367.7" fill="none" stroke="#111" stroke-width="1"/><path d="M67.5 685 V784.5 H397.5 V685" fill="none" stroke="#1a1a1a" stroke-width="1"/><path d="M71.5 676 V780.5 H393.5 V676 H388.5 V776.5 H76.5 V676 Z" fill="none" stroke="#1a1a1a" stroke-width="1"/><line x1="67.5" y1="756.5" x2="397.5" y2="756.5" stroke="#444" stroke-width="1"/><line x1="167.5" y1="646" x2="167.5" y2="784" stroke="#333" stroke-width="1"/><path d="M165 654 L167 646 L169 654 M165 776 L167 784 L169 776" fill="none" stroke="#1a1a1a" stroke-width="0.8"/><path d="M80 754.5 L72 756.5 L80 758.5 M385 754.5 L393 756.5 L385 758.5" fill="none" stroke="#1a1a1a" stroke-width="0.8"/><rect x="429.5" y="607.6" width="48.5" height="45.9" fill="none" stroke="#1a1a1a" stroke-width="1"/><line x1="367" y1="607.6" x2="429" y2="607.6" stroke="#1a1a1a" stroke-width="1"/><line x1="429.5" y1="653.5" x2="772" y2="653.5" stroke="#1a1a1a" stroke-width="1"/><line x1="417" y1="665.4" x2="772" y2="665.4" stroke="#1a1a1a" stroke-width="1"/><path d="M570.6 663.5 V643.8 H697 V663.5" fill="none" stroke="#222" stroke-width="1" stroke-dasharray="5,2.5"/><rect x="575.4" y="653.8" width="117.3" height="4.9" fill="none" stroke="#1a1a1a" stroke-width="0.9"/><rect x="575.4" y="653.8" width="5" height="5" fill="none" stroke="#1a1a1a" stroke-width="0.9"/><rect x="629" y="653.8" width="5" height="5" fill="none" stroke="#1a1a1a" stroke-width="0.9"/><rect x="636" y="653.8" width="5" height="5" fill="none" stroke="#1a1a1a" stroke-width="0.9"/><rect x="687.5" y="653.8" width="5" height="5" fill="none" stroke="#1a1a1a" stroke-width="0.9"/><path d="M570.6 653 V665 M575.4 653 V665 M687.5 653 V665 M692.7 653 V665" fill="none" stroke="#1a1a1a" stroke-width="0.9"/><path d="M577 652 L628.5 630 L633 645 M637 645 L639 630 L691 652" fill="none" stroke="#222" stroke-width="1" stroke-dasharray="5,2.5"/><rect x="599.5" y="400.5" width="172.5" height="126" fill="none" stroke="#111" stroke-width="1.1" stroke-dasharray="11,5"/><circle cx="556.8" cy="583.7" r="68" fill="none" stroke="#222" stroke-width="1.1" stroke-dasharray="10,5"/><line x1="709" y1="32.2" x2="787" y2="32.2" stroke="#777" stroke-width="1"/><rect x="731.5" y="16.8" width="35" height="2.6" fill="#fff" stroke="#1a1a1a" stroke-width="0.9"/><path d="M729 16.5 H733 V21 H737 M770 16.5 H766 V21 H762" fill="none" stroke="#1a1a1a" stroke-width="0.9"/><rect x="62" y="16" width="3.5" height="604" fill="#478b86"/><rect x="65" y="30.5" width="321" height="3" fill="#478b86"/><rect x="110" y="31" width="9" height="68" fill="#478b86"/><rect x="62" y="90" width="57" height="9" fill="#478b86"/><rect x="289" y="31" width="8" height="172" fill="#478b86"/><rect x="473.5" y="16" width="2" height="16" fill="#478b86"/><rect x="475" y="30.5" width="234" height="1.8" fill="#478b86"/><rect x="478" y="32" width="1.2" height="55" fill="#478b86"/><rect x="483.8" y="32" width="1.2" height="55" fill="#478b86"/><rect x="478" y="86" width="7" height="1.2" fill="#478b86"/><rect x="556" y="31" width="7" height="148" fill="#478b86"/><rect x="484.5" y="172" width="78.5" height="6" fill="#478b86"/><rect x="609.5" y="31" width="6" height="38" fill="#478b86"/><rect x="609.5" y="60.5" width="110" height="8.5" fill="#478b86"/><rect x="719" y="60" width="7.5" height="90" fill="#478b86"/><rect x="719" y="140" width="53" height="9.5" fill="#478b86"/><rect x="711.5" y="223.5" width="60.5" height="5.5" fill="#478b86"/><rect x="478.4" y="262" width="6.2" height="33" fill="#478b86"/><rect x="478" y="286" width="294" height="6.5" fill="#478b86"/><rect x="478" y="373.3" width="7.5" height="280" fill="#478b86"/><rect x="429" y="608.4" width="49" height="6.5" fill="#478b86"/><rect x="48" y="619.5" width="48.5" height="2.8" fill="#478b86"/><rect x="770.5" y="16" width="1.8" height="649" fill="#478b86"/><rect x="709.5" y="16" width="2.5" height="52" fill="#478b86"/><rect x="726" y="16" width="3" height="36" fill="#478b86"/><rect x="709.5" y="50" width="62.5" height="4.5" fill="#478b86"/><rect x="718" y="66.5" width="54" height="2.5" fill="#478b86"/><rect x="769.5" y="16" width="3" height="134" fill="#478b86"/><polyline points="67,685 67,641 96,641 96,620 62,620" fill="none" stroke="#478b86" stroke-width="2.5"/><polyline points="367,621 417,621 417,665 576,665 576,685" fill="none" stroke="#478b86" stroke-width="2.5"/><polyline points="397,685 397,640 367,640" fill="none" stroke="#478b86" stroke-width="2.5"/><polyline points="691,685 691,665 772,665" fill="none" stroke="#478b86" stroke-width="2.5"/><path d="M120 32.3H289" stroke="#111" stroke-width="1.3" stroke-dasharray="9,3" fill="none"/><path d="M48 32.3H61.5" stroke="#111" stroke-width="1.3"/><path d="M770.8 292V665" stroke="#111" stroke-width="0.9" stroke-dasharray="7,2"/><rect x="772.5" y="286.3" width="5.5" height="6" fill="#fff" stroke="#222" stroke-width="0.8"/><rect x="712.5" y="61" width="6" height="6.5" rx="1.5" fill="#fff" stroke="#222" stroke-width="0.8"/><path d="M772 52.5H787" stroke="#777" stroke-width="1"/><path d="M47 685V15.5H788.5V685H397M47 685H67" fill="none" stroke="#1a1a1a" stroke-width="1.5"/><path d="M738.4 243.2V251.3Q738.4 254.2 741.2 254.2M742.9 243.2V251.3Q742.9 254.2 745.7 254.2" stroke="#111" stroke-width="2" fill="none"/><path d="M325.6 144.4V152.6Q325.6 155.4 327.8 155.6" stroke="#111" stroke-width="2.3" fill="none"/><text transform="translate(138.33 60.34) scale(0.867 1)" font-size="14.47" font-weight="bold" stroke="#111" stroke-width="0.31" fill="#111">cui</text><text transform="translate(182.40 63.95) scale(0.813 1)" font-size="15.32" font-weight="bold" stroke="#111" stroke-width="0.49" fill="#111">lc</text><text transform="translate(213.91 65.08) scale(0.916 1)" font-size="15.93" font-weight="bold" stroke="#111" stroke-width="0.25" fill="#111">ref</text><text transform="translate(262.23 65.08) scale(1.017 1)" font-size="14.69" font-weight="bold" stroke="#111" stroke-width="0.25" fill="#111">tri</text><text transform="translate(297.64 68.47) scale(1.143 1)" font-size="11.93" font-weight="bold" stroke="#111" stroke-width="0.25" fill="#111">thermo</text><text transform="translate(84.82 139.07) scale(0.952 1)" font-size="14.72" font-weight="bold" stroke="#111" stroke-width="0.25" fill="#111">ev</text><text transform="translate(424.92 44.58) scale(0.946 1)" font-size="10.36" font-weight="bold" stroke="#111" stroke-width="0.25" fill="#111">PP90</text><text transform="translate(316.18 155.41) scale(0.642 1)" font-size="15.10" font-weight="bold" stroke="#111" stroke-width="1.18" fill="#111">P</text><text transform="translate(304.80 173.04) scale(0.896 1)" font-size="20.11" font-weight="bold" stroke="#111" stroke-width="0.33" fill="#111">1.26</text><text transform="translate(385.97 136.99) scale(0.838 1)" font-size="15.27" font-weight="bold" stroke="#111" stroke-width="0.41" fill="#111">ENT</text><text transform="translate(382.51 159.88) scale(0.919 1)" font-size="19.79" font-weight="bold" stroke="#111" stroke-width="0.25" fill="#111">3.07</text><text transform="translate(313.72 217.68) scale(0.958 1)" font-size="9.59" font-weight="bold" stroke="#111" stroke-width="0.25" fill="#111">elec</text><text transform="translate(468.81 138.88) scale(0.919 1)" font-size="10.36" font-weight="bold" stroke="#111" stroke-width="0.25" fill="#111">PP80</text><text transform="translate(516.01 119.67) scale(0.894 1)" font-size="13.36" font-weight="bold" stroke="#111" stroke-width="0.25" fill="#111">WC</text><text transform="translate(508.82 142.57) scale(0.931 1)" font-size="18.64" font-weight="bold" stroke="#111" stroke-width="0.25" fill="#111">1.23</text><text transform="translate(506.43 158.78) scale(1.022 1)" font-size="13.36" font-weight="bold" stroke="#111" stroke-width="0.25" fill="#111">0.80</text><text transform="translate(461.36 211.88) scale(0.899 1)" font-size="10.36" font-weight="bold" stroke="#111" stroke-width="0.25" fill="#111">PP80</text><text transform="translate(656.44 159.03) scale(0.846 1)" font-size="12.96" font-weight="bold" stroke="#111" stroke-width="0.33" fill="#111">SDB</text><text transform="translate(643.82 180.88) scale(0.994 1)" font-size="18.50" font-weight="bold" stroke="#111" stroke-width="0.25" fill="#111">6.28</text><text transform="translate(615.12 227.62) scale(0.992 1)" font-size="13.14" font-weight="bold" stroke="#111" stroke-width="0.25" fill="#111">3.18</text><text transform="translate(741.01 42.67) scale(0.901 1)" font-size="12.07" font-weight="bold" stroke="#111" stroke-width="0.25" fill="#111">50</text><text transform="translate(278.32 331.27) scale(0.926 1)" font-size="14.00" font-weight="bold" stroke="#111" stroke-width="0.25" fill="#111">SEJOUR/CUISINE</text><text transform="translate(302.72 354.88) scale(0.934 1)" font-size="19.64" font-weight="bold" stroke="#111" stroke-width="0.25" fill="#111">24.10</text><text transform="translate(256.72 380.68) scale(0.967 1)" font-size="14.07" font-weight="bold" stroke="#111" stroke-width="0.25" fill="#111">4.60</text><text transform="translate(613.63 380.27) scale(1.003 1)" font-size="12.79" font-weight="bold" stroke="#111" stroke-width="0.25" fill="#111">3.20</text><text transform="translate(644.45 424.67) scale(0.770 1)" font-size="15.64" font-weight="bold" stroke="#111" stroke-width="0.65" fill="#111">CHAMBRE1</text><text transform="translate(662.79 446.47) scale(0.863 1)" font-size="20.35" font-weight="bold" stroke="#111" stroke-width="0.45" fill="#111">12.94</text><text transform="translate(212.79 690.57) scale(0.817 1)" font-size="14.90" font-weight="bold" stroke="#111" stroke-width="0.47" fill="#111">BALCON</text><text transform="translate(218.32 712.58) scale(0.947 1)" font-size="19.64" font-weight="bold" stroke="#111" stroke-width="0.25" fill="#111">5.85</text><text transform="translate(218.73 751.98) scale(1.025 1)" font-size="13.21" font-weight="bold" stroke="#111" stroke-width="0.25" fill="#111">3.65</text><text transform="translate(474.21 343.68) scale(0.875 1)" font-size="10.93" font-weight="bold" stroke="#111" stroke-width="0.25" fill="#111">PP80</text><text transform="translate(258.16 333.60) rotate(-90) scale(0.829 1)" font-size="16.32" font-weight="bold" stroke="#111" stroke-width="0.47" fill="#111">6.38</text><text transform="translate(492.82 114.74) rotate(-90) scale(0.851 1)" font-size="14.98" font-weight="bold" stroke="#111" stroke-width="0.37" fill="#111">1.54</text><text transform="translate(573.12 125.34) rotate(-90) scale(0.932 1)" font-size="9.59" font-weight="bold" stroke="#111" stroke-width="0.55" fill="#111">démontable</text><text transform="translate(600.64 170.86) rotate(-90) scale(0.862 1)" font-size="13.98" font-weight="bold" stroke="#111" stroke-width="0.31" fill="#111">2.81</text><text transform="translate(601.17 485.98) rotate(-90) scale(0.924 1)" font-size="14.79" font-weight="bold" stroke="#111" stroke-width="0.25" fill="#111">4.00</text><text transform="translate(162.76 725.97) rotate(-90) scale(0.880 1)" font-size="15.16" font-weight="bold" stroke="#111" stroke-width="0.29" fill="#111">1.60</text>
</svg></body></html>
